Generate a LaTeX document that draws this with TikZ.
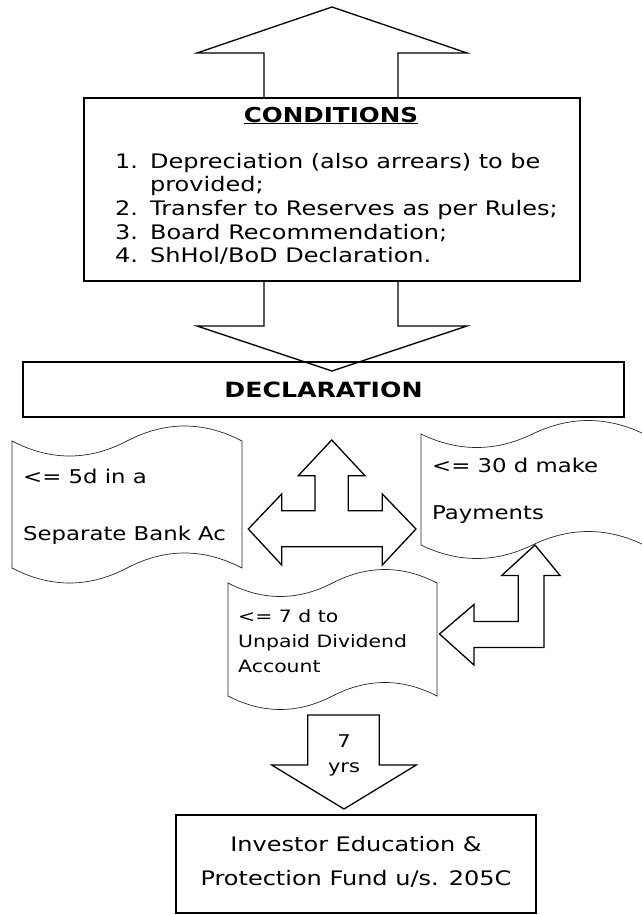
\documentclass[tikz,border=0pt]{standalone}
\usepackage{fontspec}
\setmainfont{DejaVu Sans}[FakeStretch=1.2]
\usetikzlibrary{arrows}
\newcommand{\tapeshape}[5]{%
	\draw[tapeline] (#1,#2) .. controls ({#1+(#3-#1)/6},{#2+4*#5/3}) and ({#1+(#3-#1)/3},{#2+4*#5/3}) .. ({(#1+#3)/2},#2)
		.. controls ({#1+2*(#3-#1)/3},{#2-4*#5/3}) and ({#1+5*(#3-#1)/6},{#2-4*#5/3}) .. (#3,#2) -- (#3,#4)
		.. controls ({#1+5*(#3-#1)/6},{#4-4*#5/3}) and ({#1+2*(#3-#1)/3},{#4-4*#5/3}) .. ({(#1+#3)/2},#4)
		.. controls ({#1+(#3-#1)/3},{#4+4*#5/3}) and ({#1+(#3-#1)/6},{#4+4*#5/3}) .. (#1,#4) -- cycle;}
\newcommand{\condfont}{\fontsize{20}{23.7}\selectfont}

\begin{document}
\begin{tikzpicture}[x=1pt,y=-1pt,
	box/.style={draw, line width=1.3pt, inner sep=0pt},
	blockarrow/.style={draw, line width=1.3pt, line join=miter},
	tapeline/.style={line width=0.7pt, black!85},
	txt/.style={inner sep=0pt, anchor=base west, font=\fontsize{19}{23}\selectfont},
	smalltxt/.style={txt, font=\fontsize{17}{21}\selectfont},
	midtxt/.style={inner sep=0pt, anchor=base, font=\fontsize{20}{24}\selectfont}]
	\useasboundingbox (0,0) rectangle (642,915);
	\draw[blockarrow] (264,98) -- (264,53) -- (197,53) -- (332,7) -- (467,53) -- (398,53) -- (398,98);
	\node[box, minimum width=496pt, minimum height=183pt] (condbox) at (332,189.5) {};
	\node[inner sep=0pt, anchor=base, font=\fontsize{20.5}{24}\selectfont\bfseries] (condhead) at (331,122) {\underline{CONDITIONS}};
	\node[inner sep=0pt, anchor=base west, font=\condfont] (condlist) at (115,168)
		{\begin{tabular}[t]{@{}l@{\hspace{12pt}}l@{}}
			1.&Depreciation (also arrears) to be\\
			&provided;\\
			2.&Transfer to Reserves as per Rules;\\
			3.&Board Recommendation;\\
			4.&ShHol/BoD Declaration.
		\end{tabular}};
	\draw[blockarrow] (264,281) -- (264,326) -- (197,326) -- (332,371) -- (467,326) -- (398,326) -- (398,281);
	\node[box, minimum width=601pt, minimum height=55pt, font=\fontsize{21}{25}\selectfont\bfseries] (decl) at (323.5,389.5) {DECLARATION};
	\tapeshape{12}{441}{242}{568}{15}
	\node[txt] (bankA) at (23,483) {<= 5d in a};
	\node[txt] (bankB) at (23,540) {Separate Bank Ac};
	\tapeshape{421}{434}{644}{545}{13.5}
	\node[txt] (payA) at (432,472) {<= 30 d make};
	\node[txt] (payB) at (432,519) {Payments};
	\draw[blockarrow] (331.7,440) -- (365,475.7) -- (348.3,475.7) -- (348.3,510.7) -- (382.3,510.7) -- (382.3,494) -- (416,529)
		-- (382.3,565) -- (382.3,546.7) -- (281.7,546.7) -- (281.7,565) -- (248.3,529) -- (281.7,494) -- (281.7,510.7)
		-- (315,510.7) -- (315,475.7) -- (298.3,475.7) -- cycle;
	\tapeshape{228}{583}{437}{696}{13.5}
	\node[smalltxt] (unpaidA) at (238,622) {<= 7 d to};
	\node[smalltxt] (unpaidB) at (238,647) {Unpaid Dividend};
	\node[smalltxt] (unpaidC) at (238,672) {Account};
	\draw[blockarrow] (535,545) -- (560,575.5) -- (544,575.5) -- (544,647.5) -- (474,647.5) -- (474,665) -- (439.5,634)
		-- (474,604.5) -- (474,621.5) -- (518.3,621.5) -- (518.3,575.5) -- (501.7,575.5) -- cycle;
	\draw[blockarrow] (307.7,715) -- (379.3,715) -- (379.3,765) -- (416.3,765) -- (344,809) -- (271.7,765) -- (307.7,765) -- cycle;
	\node[midtxt, font=\fontsize{17.5}{21}\selectfont] (sevenA) at (344,747) {7};
	\node[midtxt, font=\fontsize{17.5}{21}\selectfont] (sevenB) at (344,772) {yrs};
	\node[box, minimum width=360pt, minimum height=98pt] (iepf) at (356,864) {};
	\node[midtxt] (iepfA) at (356,851.7) {Investor Education \&};
	\node[midtxt] (iepfB) at (356,885) {Protection Fund u/s. 205C};
\end{tikzpicture}
\end{document}
